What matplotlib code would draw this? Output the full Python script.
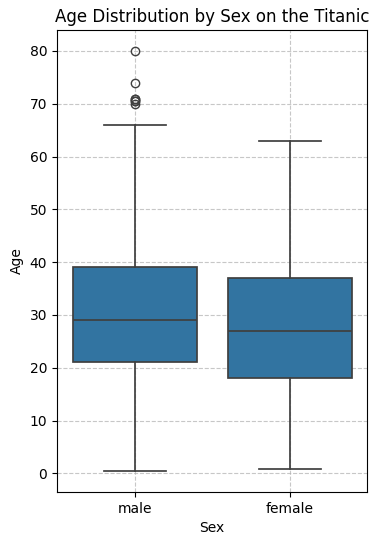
import matplotlib
matplotlib.use('Agg')
from matplotlib import pyplot as plt

# box stats (Titanic age by sex)
sexes = ['male', 'female']
whislo = [0.42, 0.75]
q1 = [21, 18]
med = [29, 27]
q3 = [39, 37]
whishi = [66, 63]
fliers_male = [70, 70.5, 70.5, 71, 71, 74, 80]
fliers_female = []

stats = []
for i, name in enumerate(sexes):
    stats.append({'label': name, 'whislo': whislo[i], 'q1': q1[i], 'med': med[i],
                  'q3': q3[i], 'whishi': whishi[i],
                  'fliers': fliers_male if i == 0 else fliers_female})

line_col = '#3f3f3f'
fig = plt.figure(figsize=(3.8, 5.45), dpi=100)
ax = fig.add_axes([0.15, 0.097, 0.816, 0.848])
ax.bxp(stats, positions=[0, 1], widths=0.8, patch_artist=True,
       boxprops=dict(facecolor='#3274a1', edgecolor=line_col, linewidth=1.25),
       medianprops=dict(color=line_col, linewidth=1.25),
       whiskerprops=dict(color=line_col, linewidth=1.25),
       capprops=dict(color=line_col, linewidth=1.25),
       flierprops=dict(marker='o', markerfacecolor='none', markeredgecolor=line_col,
                       markersize=6, markeredgewidth=1.0),
       capwidths=0.4)
ax.set_xlim(-0.5, 1.5)
ax.set_ylim(-3.56, 83.98)
ax.set_yticks([0, 10, 20, 30, 40, 50, 60, 70, 80])
ax.set_xticks([0, 1])
ax.set_xticklabels(sexes)
ax.grid(True, linestyle='--', alpha=0.7, color='#b0b0b0')
ax.set_axisbelow(True)
ax.set_xlabel('Sex')
ax.set_ylabel('Age')
ax.set_title('Age Distribution by Sex on the Titanic')
fig.savefig('out.png', dpi=100)
